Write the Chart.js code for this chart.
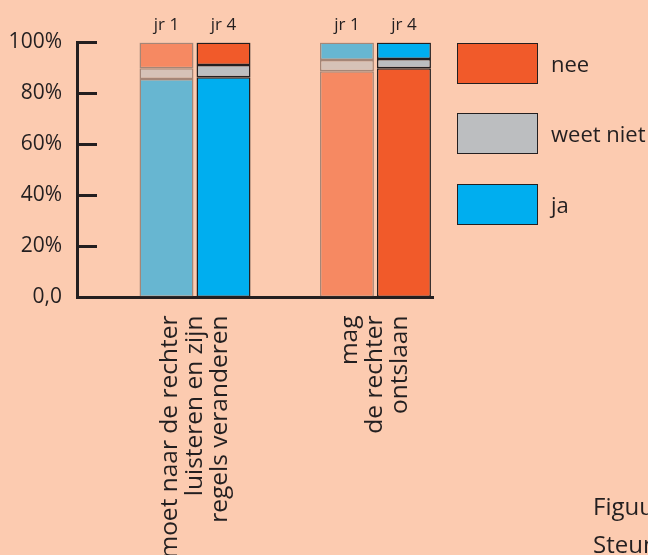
<!DOCTYPE html>
<html>
<head>
<meta charset="utf-8">
<script src="https://cdn.jsdelivr.net/npm/chart.js@4/dist/chart.umd.min.js"></script>
<style>
  html, body { margin: 0; padding: 0; }
  body { width: 648px; height: 555px; background: #fccbb0; overflow: hidden; position: relative;
         font-family: "Open Sans", sans-serif; color: #231f20; }
  #wrap { position: absolute; left: 0; top: 0; width: 648px; height: 555px; }
  .legbox { position: absolute; left: 457px; width: 81px; height: 41px; box-sizing: border-box; border: 1.5px solid #231f20; }
  .legtxt { position: absolute; left: 551px; font-size: 22px; line-height: 41px; white-space: nowrap; }
  .foot { position: absolute; left: 593px; font-size: 24px; line-height: 24px; white-space: nowrap; }
</style>
</head>
<body>
<div id="wrap"><canvas id="myChart" width="648" height="555"></canvas></div>
<div id="legend"></div>
<div class="foot" style="top:494px">Figuur</div>
<div class="foot" style="top:532px">Steun</div>
<script>
// categories (x labels, one list of lines per group)
var groups = [
    ['moet naar de rechter', 'luisteren en zijn', 'regels veranderen'],
    ['mag', 'de rechter', 'ontslaan']
];
var years = ['jr 1', 'jr 4'];
var answers = ['nee', 'weet niet', 'ja'];

// percentages per group (group 1, group 2)
var ja_jr1 = [85.7, 6.9];
var weetniet_jr1 = [4.2, 4.4];
var nee_jr1 = [10.1, 88.7];
var ja_jr4 = [86.4, 6.5];
var weetniet_jr4 = [4.8, 3.6];
var nee_jr4 = [8.8, 89.9];

// bottom-to-top order of the segments in each group
var stackOrder = [['ja', 'weet niet', 'nee'], ['nee', 'weet niet', 'ja']];

var yTicks = [0, 20, 40, 60, 80, 100];
var yTickLabels = ['0,0', '20%', '40%', '60%', '80%', '100%'];

var values = {
    'jr 1': { 'ja': ja_jr1, 'weet niet': weetniet_jr1, 'nee': nee_jr1 },
    'jr 4': { 'ja': ja_jr4, 'weet niet': weetniet_jr4, 'nee': nee_jr4 }
};
var colors = {
    'jr 1': { 'ja': '#67b6d1', 'weet niet': '#d6c2b7', 'nee': '#f68962' },
    'jr 4': { 'ja': '#00aeef', 'weet niet': '#bcbec0', 'nee': '#f15a2a' }
};
var borders = { 'jr 1': 'rgba(60, 50, 50, 0.45)', 'jr 4': '#231f20' };
var ink = '#231f20';
var font = '"Open Sans", sans-serif';

function floating(year, answer) {
    return groups.map(function (g, gi) {
        var order = stackOrder[gi];
        var start = 0;
        for (var k = 0; k < order.indexOf(answer); k++) {
            start += values[year][order[k]][gi];
        }
        return { x: gi, y: [start, start + values[year][answer][gi]] };
    });
}

var datasets = [];
years.forEach(function (yr) {
    answers.forEach(function (ans) {
        datasets.push({
            label: ans,
            stack: yr,
            data: floating(yr, ans),
            backgroundColor: colors[yr][ans],
            borderColor: borders[yr],
            borderWidth: 1.5,
            borderSkipped: false,
            categoryPercentage: 0.632,
            barPercentage: 0.947
        });
    });
});

// legend (boxes to the right)
var legendTops = [43, 113, 184];
var legend = document.getElementById('legend');
answers.forEach(function (ans, i) {
    var box = document.createElement('div');
    box.className = 'legbox';
    box.style.top = legendTops[i] + 'px';
    box.style.background = colors['jr 4'][ans];
    legend.appendChild(box);
    var txt = document.createElement('div');
    txt.className = 'legtxt';
    txt.style.top = legendTops[i] + 'px';
    txt.textContent = ans;
    legend.appendChild(txt);
});

// "jr 1" / "jr 4" above every bar
var yearLabels = {
    id: 'yearLabels',
    afterDatasetsDraw: function (chart) {
        var ctx = chart.ctx;
        ctx.save();
        ctx.font = '17px ' + font;
        ctx.fillStyle = ink;
        ctx.textAlign = 'center';
        ctx.textBaseline = 'alphabetic';
        chart.data.datasets.forEach(function (ds, di) {
            if (ds.label !== 'ja') return;
            chart.getDatasetMeta(di).data.forEach(function (bar) {
                ctx.fillText(ds.stack, bar.x, chart.chartArea.top - 13);
            });
        });
        ctx.restore();
    }
};

var lineHeight = 25;
var ctx = document.getElementById('myChart');
var chart = new Chart(ctx, {
    type: 'bar',
    data: { datasets: datasets },
    plugins: [yearLabels],
    options: {
        responsive: false,
        animation: false,
        layout: { padding: { left: 0, top: 42.5, right: 215, bottom: 0 } },
        plugins: { legend: { display: false }, tooltip: { enabled: false } },
        scales: {
            x: {
                type: 'linear',
                min: -0.654,
                max: 1.319,
                offset: false,
                stacked: true,
                grid: { display: false },
                border: { display: true, color: ink, width: 3 },
                afterBuildTicks: function (s) {
                    s.ticks = groups.map(function (g, i) {
                        return { value: i - (g.length - 1) / 2 * lineHeight / 180.5 };
                    });
                },
                ticks: {
                    autoSkip: false,
                    minRotation: 90,
                    maxRotation: 90,
                    padding: 10,
                    color: ink,
                    font: { family: font, size: 24.5, lineHeight: lineHeight + 'px' },
                    callback: function (v, i) { return groups[i]; }
                },
                afterFit: function (s) { s.height = 257.5; }
            },
            y: {
                min: 0,
                max: 100,
                stacked: false,
                afterBuildTicks: function (s) {
                    s.ticks = yTicks.map(function (v) { return { value: v }; });
                },
                grid: { display: true, drawOnChartArea: false, drawTicks: true, tickLength: -20, tickWidth: 3, tickColor: ink },
                border: { display: true, color: ink, width: 3 },
                ticks: {
                    padding: 35,
                    color: ink,
                    font: { family: font, size: 21 },
                    callback: function (v, i) { return yTickLabels[i]; }
                },
                afterFit: function (s) {
                    s.width = 77;
                    s.paddingTop = 0;
                    s.paddingBottom = 0;
                }
            }
        }
    }
});
</script>
</body>
</html>
